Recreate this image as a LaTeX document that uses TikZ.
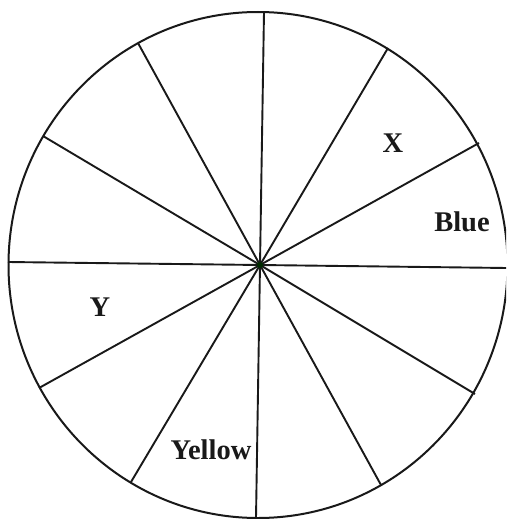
\documentclass[tikz,border=0pt]{standalone}
\usepackage{fontspec}
\setmainfont{Liberation Serif}
\begin{document}
\begin{tikzpicture}[x=1pt,y=-1pt,
  rim/.style={line width=2pt,draw=black!90},
  spoke/.style={line width=1.9pt,draw=black!90},
  lbl/.style={font=\fontsize{28.5}{30}\selectfont\bfseries,text=black!90,inner sep=0pt}]
\useasboundingbox (0,0) rectangle (506,519);
\fill[white] (0,0) rectangle (506,519);
\clip (0,0) rectangle (506,519);
\coordinate (c) at (260,265);
\draw[rim] (258,265) ellipse[x radius=249.5,y radius=253];
\coordinate (p0) at (507,268);
\coordinate (p1) at (479,143);
\coordinate (p2) at (388,48);
\coordinate (p3) at (264,12);
\coordinate (p4) at (138,43);
\coordinate (p5) at (43,136);
\coordinate (p6) at (8,262);
\coordinate (p7) at (39,388);
\coordinate (p8) at (131,482);
\coordinate (p9) at (256,518);
\coordinate (p10) at (381,485);
\coordinate (p11) at (475,394);
\foreach \i in {0,...,11}{
  \draw[spoke] (c) -- (p\i);
}
\fill[black!60!green!40!black] (c) circle[radius=3.2];
\node[lbl] (x) at (393,143) {X};
\node[lbl] (blue) at (462,222) {Blue};
\node[lbl] (y) at (100,307) {Y};
\node[lbl] (yellow) at (211,450) {Yellow};
\end{tikzpicture}
\end{document}
